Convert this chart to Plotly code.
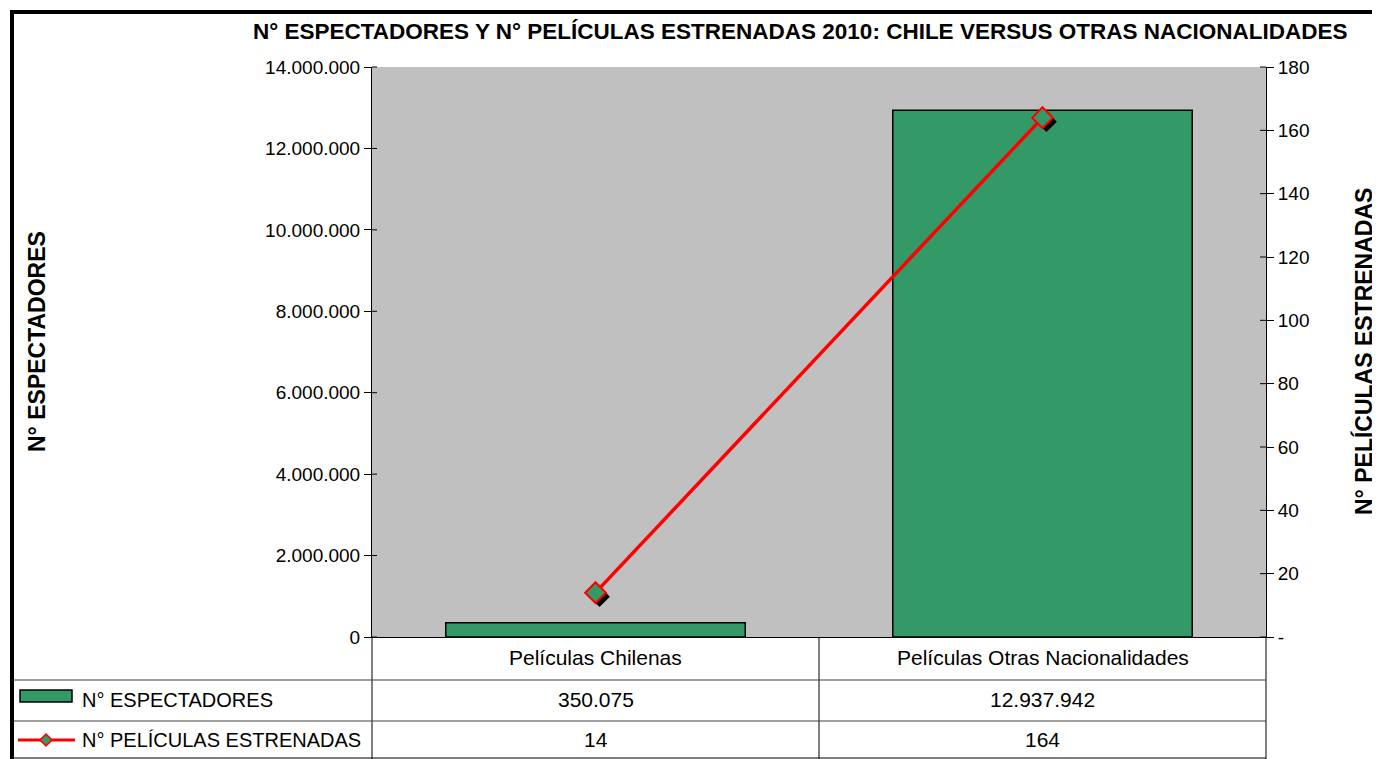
import plotly.graph_objects as go

# ---------------- data ----------------
categories = ["Películas Chilenas", "Películas Otras Nacionalidades"]
espectadores = [350075, 12937942]
peliculas = [14, 164]
series_names = ["N° ESPECTADORES", "N° PELÍCULAS ESTRENADAS"]
title_text = "N° ESPECTADORES Y N° PELÍCULAS ESTRENADAS 2010: CHILE VERSUS OTRAS NACIONALIDADES"
left_title = "N° ESPECTADORES"
right_title = "N° PELÍCULAS ESTRENADAS"
left_ticks = [0, 2000000, 4000000, 6000000, 8000000, 10000000, 12000000, 14000000]
right_ticks = [0, 20, 40, 60, 80, 100, 120, 140, 160, 180]

# ---------------- layout geometry (screen pixels) ----------------
OFF = 8                      # page body margin
W, H = 1380 - OFF, 759 - OFF
PL, PR, PT, PB = 372, 1266, 67, 637
pw, ph = PR - PL, PB - PT

def px(x):
    return (x - PL) / pw

def py(y):
    return (PB - y) / ph

FONT = "Liberation Sans, Arial, sans-serif"
GREEN = "#339966"
RED = "#FF0000"

def fmt(v):
    return f"{v:,}".replace(",", ".")

fig = go.Figure()

# bars
fig.add_trace(go.Bar(
    x=categories, y=espectadores, name=series_names[0],
    marker=dict(color=GREEN, line=dict(color="black", width=1.5)),
    width=0.67, xaxis="x", yaxis="y", showlegend=False,
))

# shadow of markers (offset axes)
sx = 4 / pw * 2
sy = 4 / ph * 180
fig.add_trace(go.Scatter(
    x=categories, y=peliculas, mode="markers",
    marker=dict(symbol="diamond", size=16, color="black"),
    xaxis="x2", yaxis="y2", showlegend=False, hoverinfo="skip",
))

# line
fig.add_trace(go.Scatter(
    x=categories, y=peliculas, name=series_names[1], mode="lines+markers",
    line=dict(color=RED, width=3.5),
    marker=dict(symbol="diamond", size=16, color=GREEN, line=dict(color=RED, width=2)),
    xaxis="x3", yaxis="y3", showlegend=False,
))

tick_font = dict(family=FONT, size=19, color="black")

fig.update_layout(
    width=W, height=H,
    margin=dict(l=PL - OFF, r=W - (PR - OFF), t=PT - OFF, b=H - (PB - OFF)),
    paper_bgcolor="white", plot_bgcolor="#C0C0C0",
    separators=",.",
    showlegend=False,
    xaxis=dict(type="category", range=[-0.5, 1.5], showticklabels=False, ticks="",
               showgrid=False, showline=True, linecolor="black", linewidth=1, zeroline=False),
    yaxis=dict(range=[0, 14000000], tickvals=left_ticks, tickformat=",d",
               ticks="outside", ticklen=7, tickcolor="black", showgrid=False,
               showline=True, linecolor="black", linewidth=1, zeroline=False,
               tickfont=tick_font),
    xaxis2=dict(type="category", overlaying="x", range=[-0.5 - sx, 1.5 - sx], visible=False),
    yaxis2=dict(overlaying="y", range=[sy, 180 + sy], visible=False),
    xaxis3=dict(type="category", overlaying="x", range=[-0.5, 1.5], visible=False),
    yaxis3=dict(overlaying="y", side="right", range=[0, 180], tickvals=right_ticks,
                ticktext=["-" if v == 0 else str(v) for v in right_ticks],
                ticks="outside", ticklen=7, tickcolor="black", showgrid=False,
                showline=True, linecolor="black", linewidth=1, zeroline=False,
                tickfont=tick_font, anchor="x3"),
)

shapes = []
def line(x0, y0, x1, y1, color="black", width=1):
    shapes.append(dict(type="line", xref="paper", yref="paper",
                       x0=px(x0), y0=py(y0), x1=px(x1), y1=py(y1),
                       line=dict(color=color, width=width)))

# inside ticks (cross ticks)
for v in left_ticks:
    yy = PB - v / 14000000 * ph
    line(PL, yy, PL + 5, yy)
for v in right_ticks:
    yy = PB - v / 180 * ph
    line(PR - 6, yy, PR, yy)

# data table
line(PL, PB, PL, 759)
line(819, PB, 819, 759)
line(PR, PB, PR, 759)
line(14, 680, PR, 680, "#404040")
line(14, 721, PR, 721, "#404040")
line(14, 758, PR, 758)
# frame
line(10, 12, 1380, 12, "black", 4)
line(12, 10, 12, 759, "black", 4)

# legend keys
shapes.append(dict(type="rect", xref="paper", yref="paper",
                   x0=px(20), x1=px(72), y0=py(690), y1=py(702),
                   fillcolor=GREEN, line=dict(color="black", width=1.5)))
line(18, 740, 75, 740, RED, 3)
cx, cy, r = 46, 740, 6
shapes.append(dict(type="path", xref="paper", yref="paper",
                   path=f"M {px(cx)} {py(cy - r)} L {px(cx + r)} {py(cy)} L {px(cx)} {py(cy + r)} L {px(cx - r)} {py(cy)} Z",
                   fillcolor=GREEN, line=dict(color=RED, width=1.5)))

fig.update_layout(shapes=shapes)

anns = []
def text(x, y, s, size=18, bold=False, xanchor="center", angle=0):
    anns.append(dict(xref="paper", yref="paper", x=px(x), y=py(y), text=f"<b>{s}</b>" if bold else s,
                     showarrow=False, xanchor=xanchor, yanchor="middle", textangle=angle,
                     font=dict(family=FONT, size=size, color="black")))

text(800, 31, title_text, size=22.5, bold=True)
text(37, 342, left_title, size=23, bold=True, angle=-90)
text(1363, 352, right_title, size=23, bold=True, angle=-90)
centers = [595.5, 1042.5]
for c, cat in zip(centers, categories):
    text(c, 657, cat, size=21)
for c, v in zip(centers, espectadores):
    text(c, 700, fmt(v), size=21)
for c, v in zip(centers, peliculas):
    text(c, 740, fmt(v), size=21)
text(80, 700, series_names[0], size=20, xanchor="left")
text(80, 740, series_names[1], size=20, xanchor="left")

fig.update_layout(annotations=anns)

fig.write_html("out.html")
